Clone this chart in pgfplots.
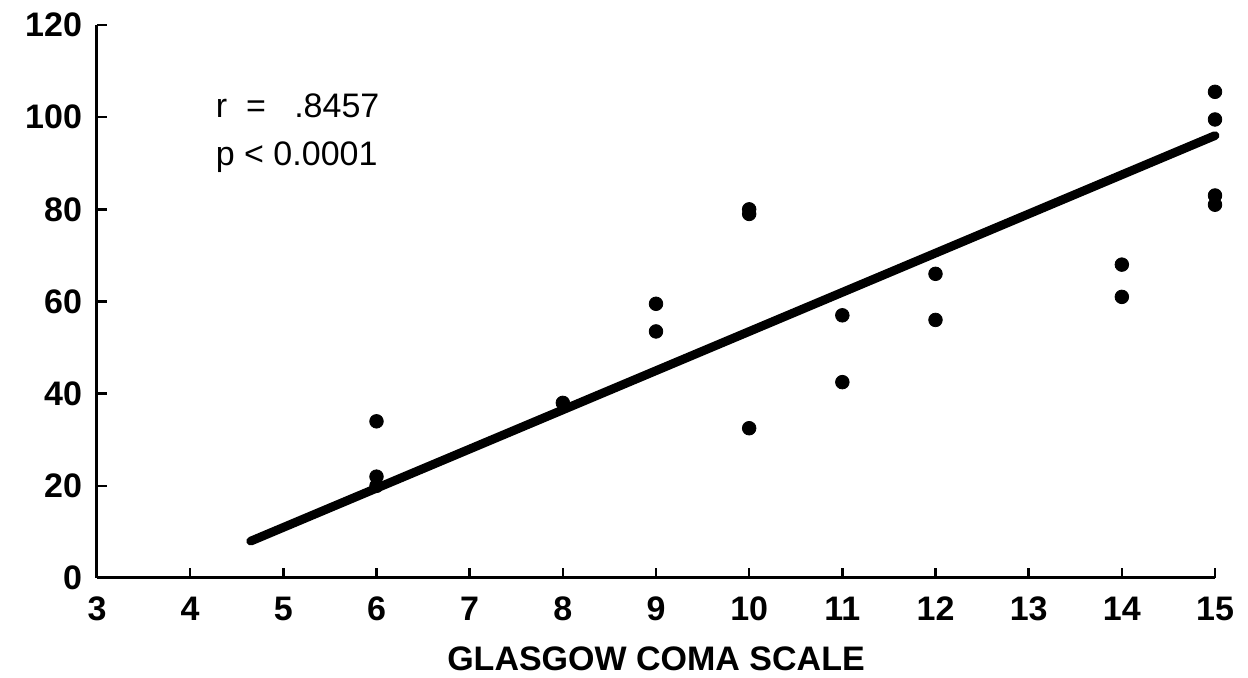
\documentclass[border=0pt]{standalone}
\usepackage{fontspec}
\setmainfont{Liberation Sans}
\usepackage{pgfplots}
\pgfplotsset{compat=1.18}
\begin{document}
\begin{tikzpicture}
\begin{axis}[
  scale only axis, width=559pt, height=276.5pt,
  xmin=3, xmax=15, ymin=0, ymax=120,
  axis x line*=bottom, axis y line*=left,
  axis line style={line width=1.5pt, -},
  xtick={3,...,15}, ytick={0,20,...,120},
  tick align=inside, major tick length=5pt,
  tick style={line width=1.2pt, black},
  /pgf/number format/assume math mode=true,
  ticklabel style={font=\fontsize{17}{20}\selectfont\bfseries},
  xticklabel style={yshift=-6pt},
  yticklabel style={xshift=-4pt},
  xlabel={GLASGOW COMA SCALE},
  xlabel style={font=\fontsize{17}{20}\selectfont\bfseries, yshift=-6pt},
  clip=false,
]
\addplot[only marks, mark=*, mark size=3.4pt, black] coordinates {
  (6,34) (6,22) (6,20)
  (8,38)
  (9,59.5) (9,53.5)
  (10,80) (10,79) (10,32.5)
  (11,57) (11,42.5)
  (12,66) (12,56)
  (14,68) (14,61)
  (15,105.5) (15,99.5) (15,83) (15,81)
};
\addplot[black, line width=4.4pt, line cap=round] coordinates {(4.65,8) (15,96)};
\node[anchor=base west, font=\fontsize{17}{20}\selectfont] at (axis cs:4.20,100) {r\ \ =\ \ \ .8457};
\node[anchor=base west, font=\fontsize{17}{20}\selectfont] at (axis cs:4.20,89.5) {p < 0.0001};
\end{axis}
\path (current axis.south west) ++(-48.5pt,-50pt) coordinate (bl);
\path (current axis.north east) ++(16.5pt,12.5pt) coordinate (tr);
\path (bl) rectangle (tr);
\end{tikzpicture}
\end{document}
